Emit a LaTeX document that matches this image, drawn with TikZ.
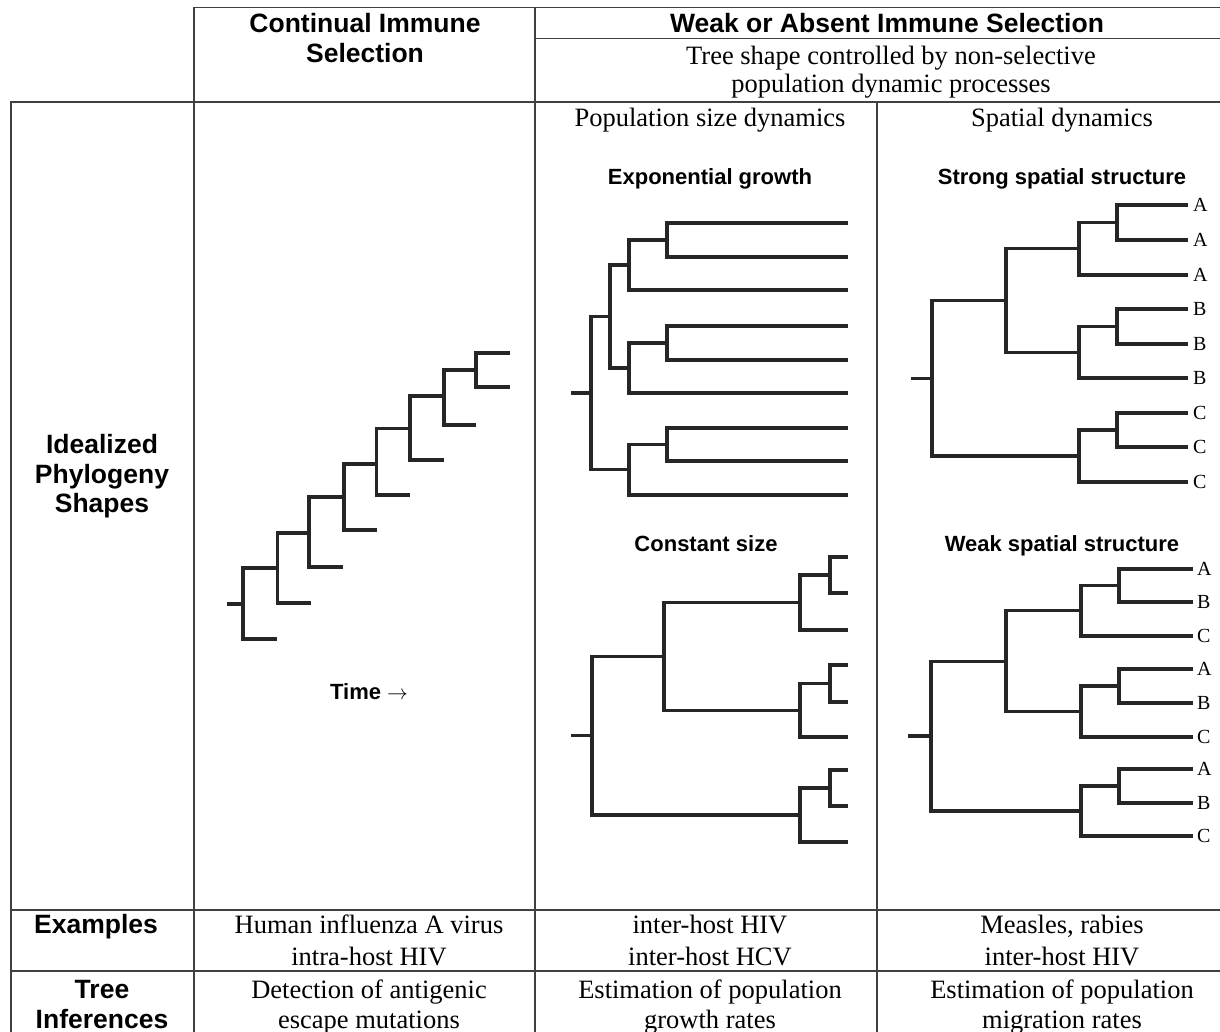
\documentclass[tikz,border=0pt]{standalone}
\usepackage{fontspec}
\setmainfont{Liberation Serif}
\setsansfont{Liberation Sans}
\tikzset{
  tabline/.style={line width=1.6pt, black!75},
  branch/.style={line width=3.2pt, black!85},
  headtxt/.style={anchor=base, inner sep=0pt, font=\sffamily\bfseries\fontsize{26.5}{30}\selectfont},
  paneltxt/.style={anchor=base, inner sep=0pt, font=\sffamily\bfseries\fontsize{22}{26}\selectfont},
  celltxt/.style={anchor=base, inner sep=0pt, font=\fontsize{26.5}{30}\selectfont},
  tiplab/.style={anchor=west, inner sep=0pt, font=\fontsize{20}{22}\selectfont},
}
\begin{document}
\begin{tikzpicture}[x=1pt,y=-1pt]
    \useasboundingbox (0,0) rectangle (1220,1032);

    % table
    \draw[tabline] (194,1032) -- (194,7.5) -- (1220,7.5);
    \draw[tabline] (535,1032) -- (535,7.5);
    \draw[tabline] (535,38.5) -- (1220,38.5);
    \draw[tabline] (11,1032) -- (11,102) -- (1220,102);
    \draw[tabline] (877,102) -- (877,1032);
    \draw[tabline] (11,910) -- (1220,910);
    \draw[tabline] (11,971) -- (1220,971);

    % headings
    \node[headtxt] (contA) at (365,33) {Continual Immune};
    \node[headtxt] (contB) at (365,63) {Selection};
    \node[headtxt] (weak) at (887,33) {Weak or Absent Immune Selection};
    \node[celltxt] (ctrlA) at (891,65) {Tree shape controlled by non-selective};
    \node[celltxt] (ctrlB) at (891,93) {population dynamic processes};
    \node[celltxt] (popsize) at (710,127) {Population size dynamics};
    \node[celltxt] (spatial) at (1062,127) {Spatial dynamics};
    \node[headtxt] (idealA) at (102,453) {Idealized};
    \node[headtxt] (idealB) at (102,483) {Phylogeny};
    \node[headtxt] (idealC) at (102,512) {Shapes};
    \node[paneltxt] (expo) at (710,185) {Exponential growth};
    \node[paneltxt] (strong) at (1062,185) {Strong spatial structure};
    \node[paneltxt] (const) at (706,551) {Constant size};
    \node[paneltxt] (weaksp) at (1062,551) {Weak spatial structure};
    \node[paneltxt] (time) at (369,699) {Time \(\rightarrow\)};

    % continual selection: ladder tree
    \draw[branch] (227,604) -- (243,604);
    \draw[branch] (277.5,568) -| (243,639) -- (277,639);
    \draw[branch] (309,533) -| (277.5,603) -- (311,603);
    \draw[branch] (344,497) -| (309,567) -- (343,567);
    \draw[branch] (376.5,464) -| (344,530) -- (377,530);
    \draw[branch] (410,428.5) -| (376.5,495) -- (409.5,495);
    \draw[branch] (444,396) -| (410,460) -- (443.5,460);
    \draw[branch] (476,370) -| (444,425) -- (476,425);
    \draw[branch] (510,353) -| (476,387) -- (510,387);

    % exponential growth
    \draw[branch] (571,393) -- (591,393);
    \draw[branch] (610,316.5) -| (591,469.8) -- (629,469.8);
    \draw[branch] (629,265) -| (610,368) -- (629,368);
    \draw[branch] (667,240) -| (629,290) -- (848,290);
    \draw[branch] (848,223) -| (667,257) -- (848,257);
    \draw[branch] (667,343) -| (629,393) -- (848,393);
    \draw[branch] (848,326) -| (667,360) -- (848,360);
    \draw[branch] (667,444.5) -| (629,495) -- (848,495);
    \draw[branch] (848,428) -| (667,461) -- (848,461);

    % constant size
    \draw[branch] (571,735.7) -- (592,735.7);
    \draw[branch] (664,656.4) -| (592,815) -- (800,815);
    \draw[branch] (800,602.5) -| (664,710.3) -- (800,710.3);
    \draw[branch] (830,575) -| (800,630) -- (848,630);
    \draw[branch] (848,557) -| (830,593) -- (848,593);
    \draw[branch] (830,683.5) -| (800,737) -- (848,737);
    \draw[branch] (848,665) -| (830,702) -- (848,702);
    \draw[branch] (830,788) -| (800,842) -- (848,842);
    \draw[branch] (848,770) -| (830,806) -- (848,806);

    % strong spatial structure
    \draw[branch] (911,378.3) -- (932,378.3);
    \draw[branch] (1006,300.5) -| (932,456) -- (1079,456);
    \draw[branch] (1079,248.8) -| (1006,352.3) -- (1079,352.3);
    \draw[branch] (1117,222.5) -| (1079,275) -- (1188,275);
    \draw[branch] (1188,205) -| (1117,240) -- (1188,240);
    \draw[branch] (1117,326.5) -| (1079,378) -- (1188,378);
    \draw[branch] (1188,309) -| (1117,344) -- (1188,344);
    \draw[branch] (1117,430) -| (1079,482) -- (1188,482);
    \draw[branch] (1188,413) -| (1117,447) -- (1188,447);
    \node[tiplab] (sA1) at (1193,205) {A};
    \node[tiplab] (sA2) at (1193,240) {A};
    \node[tiplab] (sA3) at (1193,275) {A};
    \node[tiplab] (sB1) at (1193,309) {B};
    \node[tiplab] (sB2) at (1193,344) {B};
    \node[tiplab] (sB3) at (1193,378) {B};
    \node[tiplab] (sC1) at (1193,413) {C};
    \node[tiplab] (sC2) at (1193,447) {C};
    \node[tiplab] (sC3) at (1193,482) {C};

    % weak spatial structure
    \draw[branch] (908,736) -- (931,736);
    \draw[branch] (1006,661.1) -| (931,811) -- (1081,811);
    \draw[branch] (1081,610.8) -| (1006,711.5) -- (1081,711.5);
    \draw[branch] (1119,585.5) -| (1081,636) -- (1193,636);
    \draw[branch] (1193,569) -| (1119,602) -- (1193,602);
    \draw[branch] (1119,686) -| (1081,737) -- (1193,737);
    \draw[branch] (1193,669) -| (1119,703) -- (1193,703);
    \draw[branch] (1119,786) -| (1081,836) -- (1193,836);
    \draw[branch] (1193,769) -| (1119,803) -- (1193,803);
    \node[tiplab] (wA1) at (1197,569) {A};
    \node[tiplab] (wB1) at (1197,602) {B};
    \node[tiplab] (wC1) at (1197,636) {C};
    \node[tiplab] (wA2) at (1197,669) {A};
    \node[tiplab] (wB2) at (1197,703) {B};
    \node[tiplab] (wC2) at (1197,737) {C};
    \node[tiplab] (wA3) at (1197,769) {A};
    \node[tiplab] (wB3) at (1197,803) {B};
    \node[tiplab] (wC3) at (1197,836) {C};

    % examples row
    \node[headtxt] (examples) at (96,933) {Examples};
    \node[celltxt] (exContA) at (369,933) {Human influenza A virus};
    \node[celltxt] (exContB) at (369,965) {intra-host HIV};
    \node[celltxt] (exPopA) at (710,933) {inter-host HIV};
    \node[celltxt] (exPopB) at (710,965) {inter-host HCV};
    \node[celltxt] (exSpatA) at (1062,933) {Measles, rabies};
    \node[celltxt] (exSpatB) at (1062,965) {inter-host HIV};

    % inferences row
    \node[headtxt] (infA) at (102,998) {Tree};
    \node[headtxt] (infB) at (102,1028) {Inferences};
    \node[celltxt] (infContA) at (369,998) {Detection of antigenic};
    \node[celltxt] (infContB) at (369,1028) {escape mutations};
    \node[celltxt] (infPopA) at (710,998) {Estimation of population};
    \node[celltxt] (infPopB) at (710,1028) {growth rates};
    \node[celltxt] (infSpatA) at (1062,998) {Estimation of population};
    \node[celltxt] (infSpatB) at (1062,1028) {migration rates};
\end{tikzpicture}
\end{document}
